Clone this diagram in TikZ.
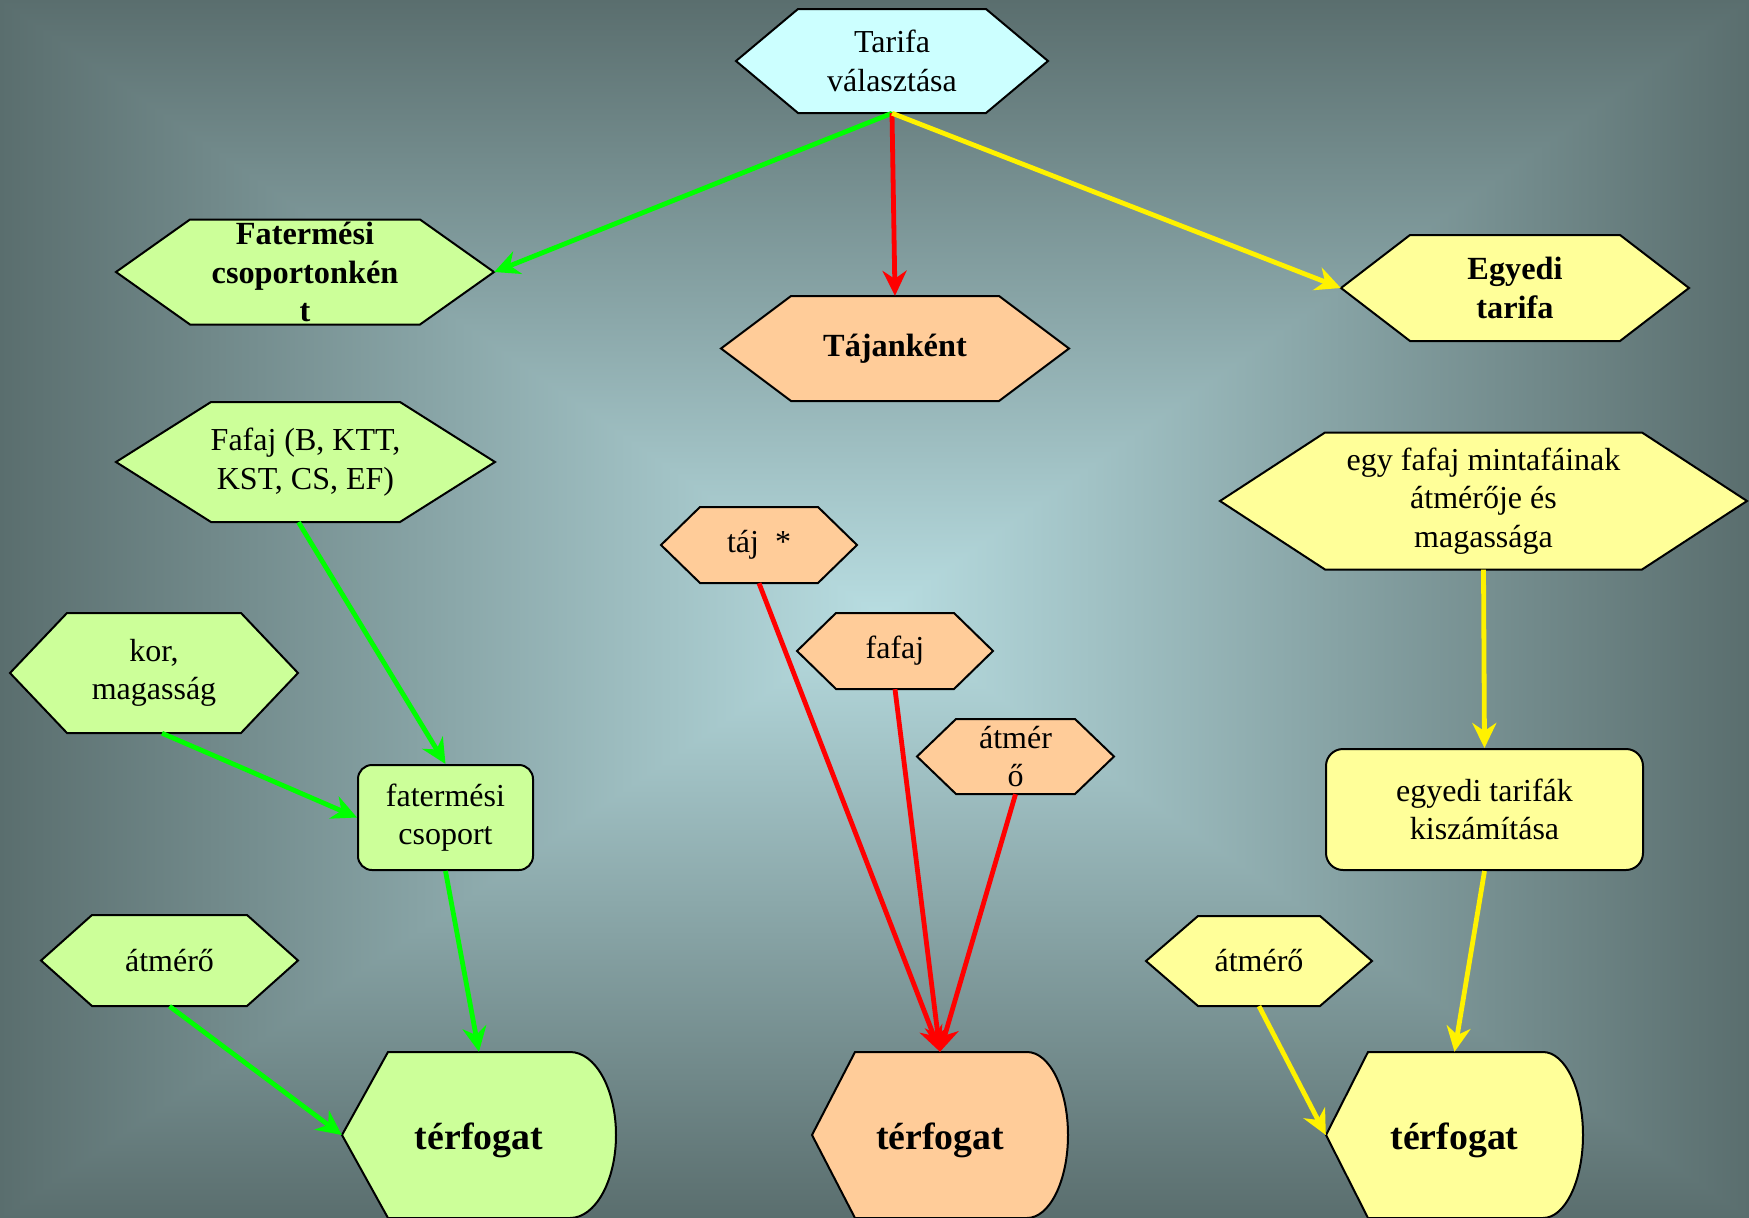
\documentclass[tikz,border=0pt]{standalone}
\usepackage{fontspec}
\setmainfont{Liberation Serif}
\usetikzlibrary{calc,arrows.meta}

\definecolor{bgdark}{RGB}{90,110,110}
\definecolor{bglight}{RGB}{184,221,225}
\definecolor{greenfill}{HTML}{CCFF99}
\definecolor{orangefill}{HTML}{FFCC99}
\definecolor{yellowfill}{HTML}{FFFF99}
\definecolor{cyanfill}{HTML}{CCFFFF}

% hexagon: name, centre, width, height, inset, fill, font style, text
\newcommand{\hexnode}[8]{%
  \draw[border,fill=#6] ($(#2)+(-#3/2,0)$) -- ++(#5,-#4/2) -- ++(#3-2*#5,0)
    -- ++(#5,#4/2) -- ++(-#5,#4/2) -- ++(-#3+2*#5,0) -- cycle;
  \node[align=center,inner sep=0pt,minimum width=#3,minimum height=#4,#7] (#1) at (#2) {#8};
}
% display shape: name, centre, width, height, inset, arc radius, fill, text
\newcommand{\dispnode}[8]{%
  \draw[border,fill=#7] ($(#2)+(-#3/2,0)$) -- ++(#5,-#4/2) -- ++(#3-#5-#6,0)
    .. controls +(0.552*#6,0) and +(0,-0.276*#4) .. ++(#6,#4/2)
    .. controls +(0,0.276*#4) and +(0.552*#6,0) .. ++(-#6,#4/2)
    -- ++(-#3+#5+#6,0) -- cycle;
  \node[bigtext,inner sep=0pt,minimum width=#3,minimum height=#4] (#1) at (#2) {#8};
}

\begin{document}
\begin{tikzpicture}[x=1pt,y=-1pt,
  border/.style={draw=black,line width=2pt},
  plaintext/.style={font=\fontsize{32}{38.5}\selectfont},
  headtext/.style={font=\fontsize{32.3}{38.5}\selectfont\bfseries},
  bigtext/.style={font=\fontsize{37.8}{44}\selectfont\bfseries,text height=37pt,text depth=8pt},
  conn/.style={line width=4.8pt,-{Stealth[length=25pt,width=24pt,inset=8pt]}}]
\useasboundingbox (0,0) rectangle (1749,1218);

% background
\coordinate (C) at (880,615);
\fill[bglight] (0,0) rectangle (1749,1218);
\shade[top color=bgdark,bottom color=bglight] (-10,0) -- (1759,0) -- ($(C)+(20,0)$) -- ($(C)+(-20,0)$) -- cycle;
\shade[top color=bglight,bottom color=bgdark] ($(C)+(-20,0)$) -- ($(C)+(20,0)$) -- (1759,1218) -- (-10,1218) -- cycle;
\shade[left color=bgdark,right color=bglight] (0,0) -- (0,1218) -- (C) -- cycle;
\shade[left color=bglight,right color=bgdark] (1749,0) -- (1749,1218) -- (C) -- cycle;

\hexnode{tarifa}{892,61}{312}{104}{62}{cyanfill}{plaintext}{Tarifa\\választása}

% fatermesi csoport
\hexnode{fatcs}{305,272}{378}{105}{74}{greenfill}{headtext}{Fatermési\\csoportonkén\\t}
\hexnode{fafaj}{305.5,462}{379}{120}{95}{greenfill}{plaintext}{Fafaj (B, KTT,\\KST, CS, EF)}
\hexnode{kor}{154,673}{288}{120}{57}{greenfill}{plaintext}{kor,\\magasság}
\node[border,fill=greenfill,rounded corners=14pt,align=center,minimum width=175,minimum height=105,plaintext] (csop) at (445.5,817.5) {fatermési\\csoport};
\hexnode{atmg}{169.5,960.5}{257}{91}{51}{greenfill}{plaintext}{átmérő}
\dispnode{terfg}{479,1135}{274}{166}{46}{46}{greenfill}{térfogat}

% tajankent
\hexnode{tajank}{895,348.5}{348}{105}{70}{orangefill}{headtext}{Tájanként}
\hexnode{taj}{759,545}{196}{76}{39}{orangefill}{plaintext}{táj~~*}
\hexnode{fafajo}{895,651}{196}{76}{39}{orangefill}{plaintext}{fafaj}
\hexnode{atmo}{1015.5,756.5}{197}{75}{39}{orangefill}{plaintext}{átmér\\ő}
\dispnode{terfo}{940,1135}{256}{166}{43}{41}{orangefill}{térfogat}

% egyedi tarifa
\hexnode{egyedi}{1515,288}{348}{106}{69}{yellowfill}{headtext}{Egyedi\\tarifa}
\hexnode{minta}{1483.5,501}{527}{137}{105}{yellowfill}{plaintext}{egy fafaj mintafáinak\\átmérője és\\magassága}
\node[border,fill=yellowfill,rounded corners=17pt,align=center,minimum width=317,minimum height=121,plaintext] (szamit) at (1484.5,809.5) {egyedi tarifák\\kiszámítása};
\hexnode{atmy}{1259,961}{226}{90}{52}{yellowfill}{plaintext}{átmérő}
\dispnode{terfy}{1454.5,1135}{257}{166}{42}{40}{yellowfill}{térfogat}

\draw[conn,green] (tarifa.south) -- (fatcs.east);
\draw[conn,red] (tarifa.south) -- (tajank.north);
\draw[conn,yellow] (tarifa.south) -- (egyedi.west);

\draw[conn,green] ([xshift=-7]fafaj.south) -- (csop.north);
\draw[conn,green] ([xshift=8]kor.south) -- (csop.west);
\draw[conn,green] (csop.south) -- (terfg.north);
\draw[conn,green] (atmg.south) -- (terfg.west);

\foreach \n in {taj,fafajo,atmo}{\draw[conn,red] (\n.south) -- (terfo.north);}

\draw[conn,yellow] (minta.south) -- (szamit.north);
\draw[conn,yellow] (szamit.south) -- (terfy.north);
\draw[conn,yellow] (atmy.south) -- (terfy.west);
\end{tikzpicture}
\end{document}
